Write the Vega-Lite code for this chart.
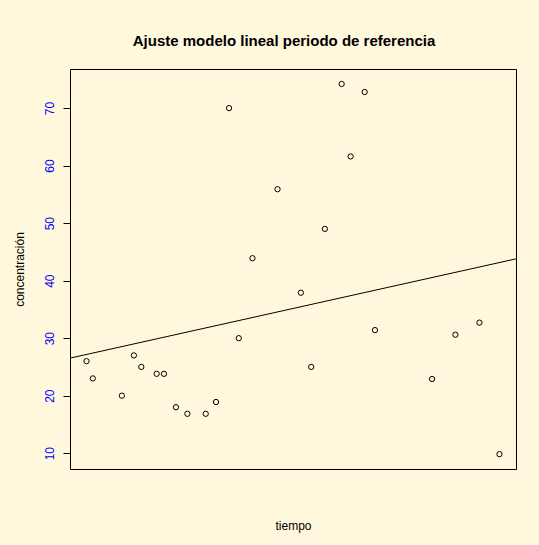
{
  "$schema": "https://vega.github.io/schema/vega-lite/v6.json",
  "width": 446,
  "height": 400,
  "autosize": "none",
  "padding": {"left": 70, "top": 69, "right": 23, "bottom": 76},
  "background": "#FFF8DC",
  "config": {
    "font": "Liberation Sans",
    "view": {"stroke": "black", "strokeWidth": 1},
    "axis": {"grid": false}
  },
  "title": {
    "text": "Ajuste modelo lineal periodo de referencia",
    "fontSize": 15,
    "fontWeight": "bold",
    "font": "Liberation Sans",
    "color": "black",
    "anchor": "middle",
    "dx": -9,
    "offset": 20
  },
  "data": {
    "values": [
      {"tiempo": 0, "concentracion": 26},
      {"tiempo": 6.3, "concentracion": 23},
      {"tiempo": 35.3, "concentracion": 20},
      {"tiempo": 47.3, "concentracion": 27},
      {"tiempo": 54.7, "concentracion": 25},
      {"tiempo": 70, "concentracion": 23.8},
      {"tiempo": 77.3, "concentracion": 23.8},
      {"tiempo": 89.3, "concentracion": 18},
      {"tiempo": 100.7, "concentracion": 16.85},
      {"tiempo": 119, "concentracion": 16.85},
      {"tiempo": 129.3, "concentracion": 18.9},
      {"tiempo": 142.3, "concentracion": 70},
      {"tiempo": 152, "concentracion": 30},
      {"tiempo": 165.7, "concentracion": 43.9},
      {"tiempo": 190.7, "concentracion": 55.9},
      {"tiempo": 214, "concentracion": 37.9},
      {"tiempo": 224.3, "concentracion": 25},
      {"tiempo": 238, "concentracion": 49},
      {"tiempo": 254.7, "concentracion": 74.2},
      {"tiempo": 263.7, "concentracion": 61.6},
      {"tiempo": 277.7, "concentracion": 72.8},
      {"tiempo": 288, "concentracion": 31.4},
      {"tiempo": 345, "concentracion": 22.9},
      {"tiempo": 368.3, "concentracion": 30.6},
      {"tiempo": 392.3, "concentracion": 32.7},
      {"tiempo": 412.3, "concentracion": 9.83}
    ]
  },
  "encoding": {
    "x": {
      "field": "tiempo",
      "type": "quantitative",
      "scale": {"domain": [-16.5, 428.8], "nice": false, "zero": false},
      "axis": {
        "title": "tiempo",
        "labels": false,
        "ticks": false,
        "domain": false,
        "titleFontSize": 12,
        "titleFontWeight": "normal",
        "titleColor": "black",
        "titlePadding": 51
      }
    },
    "y": {
      "field": "concentracion",
      "type": "quantitative",
      "scale": {"domain": [7.25, 76.8], "nice": false, "zero": false},
      "axis": {
        "title": "concentración",
        "values": [10, 20, 30, 40, 50, 60, 70],
        "domain": false,
        "tickSize": 7,
        "tickColor": "black",
        "labelColor": "#0000FF",
        "labelFontSize": 12,
        "labelAngle": 270,
        "labelAlign": "center",
        "labelBaseline": "bottom",
        "labelPadding": 7,
        "titleFontSize": 12,
        "titleFontWeight": "normal",
        "titleColor": "black",
        "titlePadding": 17
      }
    }
  },
  "layer": [
    {
      "mark": {"type": "point", "shape": "circle", "filled": false, "stroke": "black", "strokeWidth": 1, "size": 28, "opacity": 1}
    },
    {
      "transform": [
        {"regression": "concentracion", "on": "tiempo", "extent": [-16.5, 428.8]}
      ],
      "mark": {"type": "line", "color": "black", "strokeWidth": 1, "clip": true}
    }
  ]
}
